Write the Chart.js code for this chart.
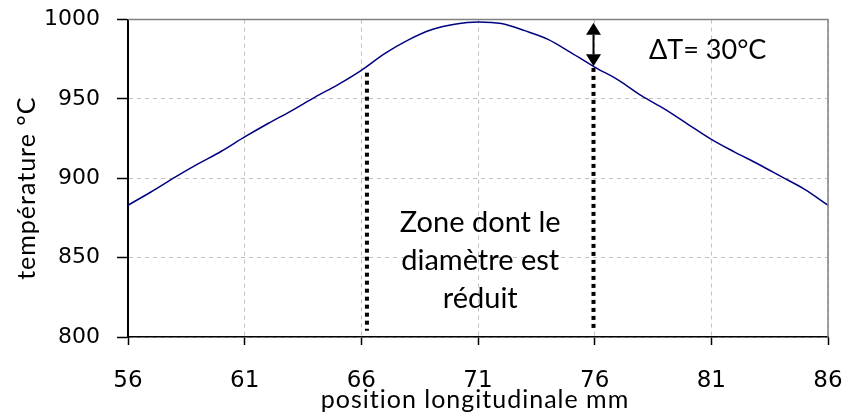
<!DOCTYPE html>
<html><head><meta charset="utf-8">
<script src="https://cdn.jsdelivr.net/npm/chart.js@4/dist/chart.umd.min.js"></script>
<style>html,body{margin:0;padding:0;background:#fff}#wrap{width:848px;height:419px}</style>
</head><body><div id="wrap"><canvas id="c" width="848" height="419"></canvas></div>
<script>
const positions    = [56,57,58,59,60,61,62,63,64,65,66,67,68,69,70,71,72,73,74,75,76,77,78,79,80,81,82,83,84,85,86];
const temperatures = [883,891.5,900.5,909,917,926,934.5,942.5,951,959,968,978.5,987,993.5,997,998.5,997.5,993,987.5,979,970,962,952,943.5,934,924.5,916.5,909,901,893,883];
const xTicks = [56,61,66,71,76,81,86];
const yTicks = [800,850,900,950,1000];
const zoneBoundsX = [66.24, 75.95];
const zoneTopY    = [966.5, 969.5];
const zoneBottomY = [804, 804];
const arrowX = [75.95];
const arrowY = [998, 970.5];
const deltaLabel = 'ΔT= 30°C';
const deltaPos = [78.33, 975];
const zoneLabel = ['Zone dont le', 'diamètre est', 'réduit'];
const zoneLabelY = 866;
const xTitle = 'position longitudinale mm';
const yTitle = 'température °C';

const textFamily = 'Lato';

const overlay = {
  id: 'overlay',
  afterDatasetsDraw(chart) {
    const {ctx, chartArea: a, scales: {x, y}} = chart;
    ctx.save();
    ctx.strokeStyle = '#808080'; ctx.lineWidth = 1.5;
    ctx.beginPath();
    ctx.moveTo(a.left, a.top); ctx.lineTo(a.right, a.top); ctx.lineTo(a.right, a.bottom);
    ctx.stroke();
    const ax = x.getPixelForValue(arrowX[0]);
    const y1 = y.getPixelForValue(arrowY[0]);
    const y2 = y.getPixelForValue(arrowY[1]);
    const hl = 12, hw = 7.5;
    ctx.strokeStyle = '#000'; ctx.fillStyle = '#000'; ctx.lineWidth = 2;
    ctx.beginPath(); ctx.moveTo(ax, y1 + hl); ctx.lineTo(ax, y2 - hl); ctx.stroke();
    ctx.beginPath(); ctx.moveTo(ax, y1); ctx.lineTo(ax - hw, y1 + hl); ctx.lineTo(ax + hw, y1 + hl); ctx.closePath(); ctx.fill();
    ctx.beginPath(); ctx.moveTo(ax, y2); ctx.lineTo(ax - hw, y2 - hl); ctx.lineTo(ax + hw, y2 - hl); ctx.closePath(); ctx.fill();
    ctx.fillStyle = '#000';
    ctx.font = '27px ' + textFamily;
    ctx.textAlign = 'left'; ctx.textBaseline = 'alphabetic';
    ctx.fillText(deltaLabel, x.getPixelForValue(deltaPos[0]), y.getPixelForValue(deltaPos[1]));
    ctx.font = '29px ' + textFamily;
    ctx.textAlign = 'center';
    const zx = x.getPixelForValue((zoneBoundsX[0] + zoneBoundsX[1]) / 2);
    const zy = y.getPixelForValue(zoneLabelY);
    zoneLabel.forEach((t, i) => ctx.fillText(t, zx, zy + i * 38));
    ctx.font = '25px ' + textFamily;
    ctx.letterSpacing = '1px';
    ctx.fillText(xTitle, (a.left + a.right) / 2 - 3, 408);
    ctx.translate(27, (a.top + a.bottom) / 2 + 10);
    ctx.rotate(-Math.PI / 2);
    ctx.textBaseline = 'middle';
    ctx.fillText(yTitle, 0, 0);
    ctx.restore();
  }
};

new Chart(document.getElementById('c'), {
  type: 'line',
  data: {
    datasets: [
      {data: positions.map((p, i) => ({x: p, y: temperatures[i]})), borderColor: '#000080', borderWidth: 1.5, pointRadius: 0, cubicInterpolationMode: 'monotone', order: 0},
      {data: [{x: zoneBoundsX[0], y: zoneTopY[0]}, {x: zoneBoundsX[0], y: zoneBottomY[0]}], borderColor: '#000', borderWidth: 4, borderDash: [4, 4], borderCapStyle: 'butt', pointRadius: 0, order: 1},
      {data: [{x: zoneBoundsX[1], y: zoneTopY[1]}, {x: zoneBoundsX[1], y: zoneBottomY[1]}], borderColor: '#000', borderWidth: 4, borderDash: [4, 4], borderCapStyle: 'butt', pointRadius: 0, order: 1}
    ]
  },
  options: {
    responsive: false, animation: false, devicePixelRatio: 1,
    layout: {autoPadding: false, padding: {top: 19.5, right: 20, left: 0, bottom: 0}},
    plugins: {legend: {display: false}, tooltip: {enabled: false}},
    scales: {
      x: {
        type: 'linear', min: 56, max: 86,
        afterBuildTicks: s => { s.ticks = xTicks.map(v => ({value: v})); },
        afterFit: s => { s.height = 82; s.paddingLeft = 0; s.paddingRight = 0; },
        grid: {color: '#c0c0c0', lineWidth: 1, tickColor: '#000', tickLength: 8, tickWidth: 1.5},
        border: {color: '#000', width: 1.5, dash: [4, 4]},
        ticks: {font: {family: 'DejaVu Sans', size: 23}, color: '#000', padding: 22, maxRotation: 0, autoSkip: false, callback: v => String(v)}
      },
      y: {
        min: 800, max: 1000,
        afterBuildTicks: s => { s.ticks = yTicks.map(v => ({value: v})); },
        afterFit: s => { s.width = 128; s.paddingTop = 0; s.paddingBottom = 0; },
        grid: {color: '#c0c0c0', lineWidth: 1, tickColor: '#000', tickLength: 11, tickWidth: 1.5},
        border: {color: '#000', width: 2, dash: [4, 4]},
        ticks: {font: {family: 'DejaVu Sans', size: 22}, color: '#000', padding: 17, autoSkip: false, callback: v => String(v)}
      }
    }
  },
  plugins: [overlay]
});
</script></body></html>
